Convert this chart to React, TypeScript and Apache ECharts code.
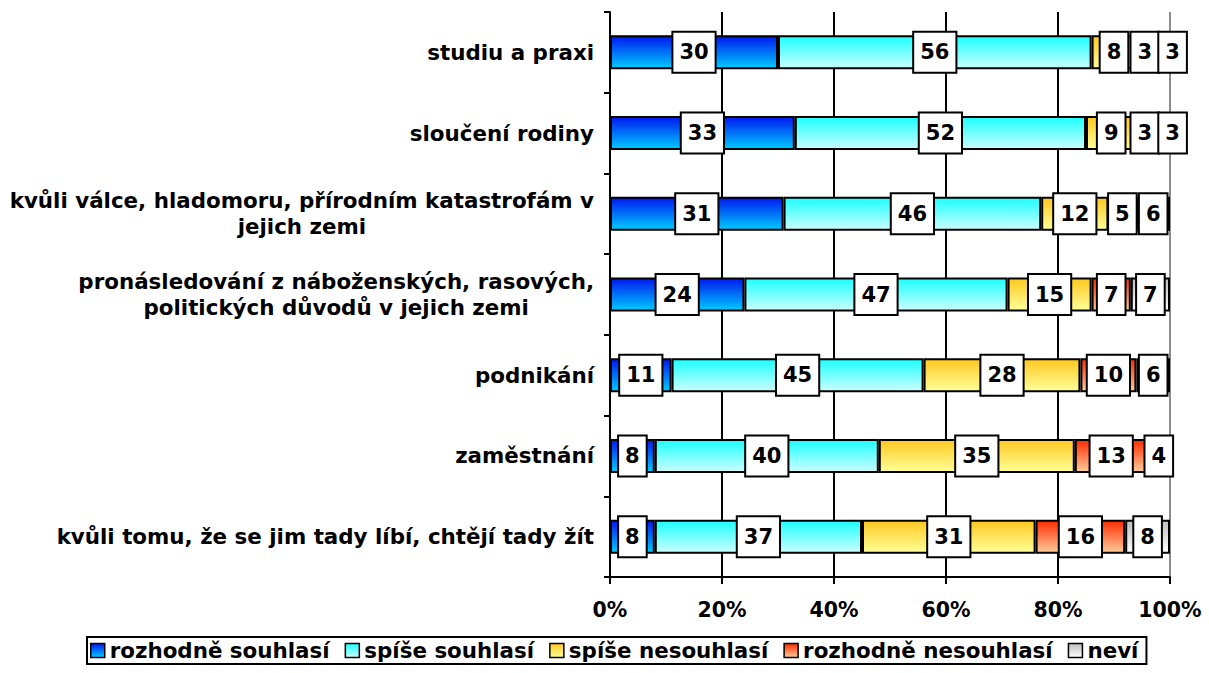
import React, { useEffect, useRef } from "react";
import * as echarts from "echarts";

const categories = [
  "studiu a praxi",
  "sloučení rodiny",
  "kvůli válce, hladomoru, přírodním katastrofám v\njejich zemi",
  "pronásledování z náboženských, rasových,\npolitických důvodů v jejich zemi",
  "podnikání",
  "zaměstnání",
  "kvůli tomu, že se jim tady líbí, chtějí tady žít",
];

const seriesNames = [
  "rozhodně souhlasí",
  "spíše souhlasí",
  "spíše nesouhlasí",
  "rozhodně nesouhlasí",
  "neví",
];

const rozhodneSouhlasi = [30, 33, 31, 24, 11, 8, 8];
const spiseSouhlasi = [56, 52, 46, 47, 45, 40, 37];
const spiseNesouhlasi = [8, 9, 12, 15, 28, 35, 31];
const rozhodneNesouhlasi = [3, 3, 5, 7, 10, 13, 16];
const nevi = [3, 3, 6, 7, 6, 4, 8];

const xTicks = [0, 20, 40, 60, 80, 100];

const FONT = "'DejaVu Sans', Verdana, sans-serif";

const grad = (top: string, bottom: string) =>
  new echarts.graphic.LinearGradient(0, 0, 0, 1, [
    { offset: 0, color: top },
    { offset: 1, color: bottom },
  ]);

export default function App() {
  const ref = useRef<HTMLDivElement>(null);

  useEffect(() => {
    if (!ref.current) return;
    const chart = echarts.init(ref.current, undefined, { renderer: "svg" });

    const allValues = [rozhodneSouhlasi, spiseSouhlasi, spiseNesouhlasi, rozhodneNesouhlasi, nevi];
    const fills = [
      grad("#0018f0", "#00ccff"),
      grad("#1cffff", "#ccffff"),
      grad("#ffc820", "#ffff99"),
      grad("#ff2a00", "#ffcc99"),
      grad("#bcbcbc", "#ffffff"),
    ];

    const series = allValues.map((vals, si) => ({
      name: seriesNames[si],
      type: "bar",
      stack: "total",
      barWidth: 34,
      itemStyle: { color: fills[si], borderColor: "#000", borderWidth: 2 },
      label: {
        show: true,
        position: "inside",
        color: "#000",
        fontFamily: FONT,
        fontWeight: "bold",
        fontSize: 21,
        lineHeight: 23,
        backgroundColor: "#fff",
        borderColor: "#000",
        borderWidth: 2,
        padding: [8, 6, 8, 6],
      },
      data: vals.map((v, i) =>
        si === 4 && i < 2 ? { value: v, label: { offset: [11, 0] } } : v
      ),
    }));

    chart.setOption({
      animation: false,
      backgroundColor: "#fff",
      grid: { left: 610, right: 39, top: 12, bottom: 96, containLabel: false },
      xAxis: {
        type: "value",
        min: 0,
        max: 100,
        interval: 20,
        axisLine: { show: true, lineStyle: { color: "#000", width: 2 } },
        axisTick: { show: true, length: 7, lineStyle: { color: "#000", width: 2 } },
        axisLabel: {
          formatter: (v: number) => (xTicks.includes(v) ? `${v}%` : ""),
          color: "#000",
          fontFamily: FONT,
          fontWeight: "bold",
          fontSize: 20.5,
          margin: 22,
        },
        splitLine: {
          show: true,
          lineStyle: {
            color: ["#000", "#000", "#000", "#000", "#000", "#8c8c8c"],
            width: 2,
          },
        },
      },
      yAxis: {
        type: "category",
        inverse: true,
        data: categories,
        axisLine: { show: true, lineStyle: { color: "#000", width: 2 } },
        axisTick: { show: true, length: 6, lineStyle: { color: "#000", width: 2 } },
        axisLabel: {
          margin: 16,
          align: "right",
          formatter: (v: string) =>
            v
              .split("\n")
              .map((l) => `{c|${l}}`)
              .join("\n"),
          rich: {
            c: {
              align: "center",
              color: "#000",
              fontFamily: FONT,
              fontWeight: "bold",
              fontSize: 21.4,
              lineHeight: 26,
            },
          },
        },
        splitLine: { show: false },
      },
      legend: {
        data: seriesNames,
        left: 87,
        top: 637,
        orient: "horizontal",
        padding: [3, 8, 3, 3],
        itemGap: 15,
        itemWidth: 14,
        itemHeight: 14,
        icon: "rect",
        borderColor: "#000",
        borderWidth: 2,
        itemStyle: { borderColor: "#000", borderWidth: 1.5 },
        textStyle: {
          color: "#000",
          fontFamily: FONT,
          fontWeight: "bold",
          fontSize: 21.4,
        },
      },
      series,
    });

    return () => chart.dispose();
  }, []);

  return (
    <div
      ref={ref}
      style={{ position: "fixed", left: 0, top: 0, width: 1209, height: 673 }}
    />
  );
}
